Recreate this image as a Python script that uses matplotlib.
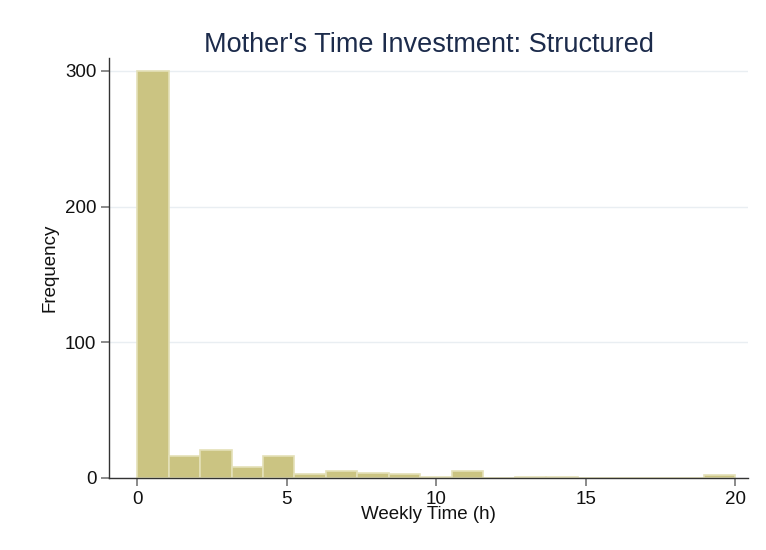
import numpy as np
import matplotlib
matplotlib.use("Agg")
import matplotlib.pyplot as plt

plt.rcParams['font.family'] = ['Liberation Sans', 'DejaVu Sans']

# histogram: 19 bins over 0..20
bin_lo = 0.0
bin_hi = 20.0
counts = [300, 16, 21, 8, 16, 3, 5, 4, 3, 1, 5, 0, 1, 1, 0, 0, 0, 0, 2]
x_ticks = [0, 5, 10, 15, 20]
y_ticks = [0, 100, 200, 300]

edges = np.linspace(bin_lo, bin_hi, len(counts) + 1)
width = edges[1] - edges[0]

fig = plt.figure(figsize=(7.66, 5.5), dpi=100)
ax = fig.add_axes([109/766, 1 - 478/550, (748 - 109)/766, (478 - 58)/550])

ax.bar(edges[:-1], counts, width=width, align='edge',
       color='#cbc482', edgecolor='#e4e0b8', linewidth=1.2, zorder=2)

ax.set_xlim(-0.94, 20.43)
ax.set_ylim(0, 309.5)
ax.set_xticks(x_ticks)
ax.set_yticks(y_ticks)
ax.yaxis.grid(True, color='#e9eef2', linewidth=1, zorder=0)
for s in ['top', 'right']:
    ax.spines[s].set_visible(False)
for s in ['left', 'bottom']:
    ax.spines[s].set_color('#333333')
    ax.spines[s].set_linewidth(1)
ax.tick_params(axis='both', length=6, color='#777777', labelsize=13.5, labelcolor='#111111', width=1.2)
ax.tick_params(axis='x', pad=3)
ax.tick_params(axis='y', pad=3)

ax.set_title("Mother's Time Investment: Structured", fontsize=19.5, color='#1c2b4b', pad=3)
ax.set_xlabel("Weekly Time (h)", fontsize=13.5, color='#111111', labelpad=-1)
ax.set_ylabel("Frequency", fontsize=13.5, color='#111111', labelpad=5)

fig.savefig("out.png", dpi=100)
